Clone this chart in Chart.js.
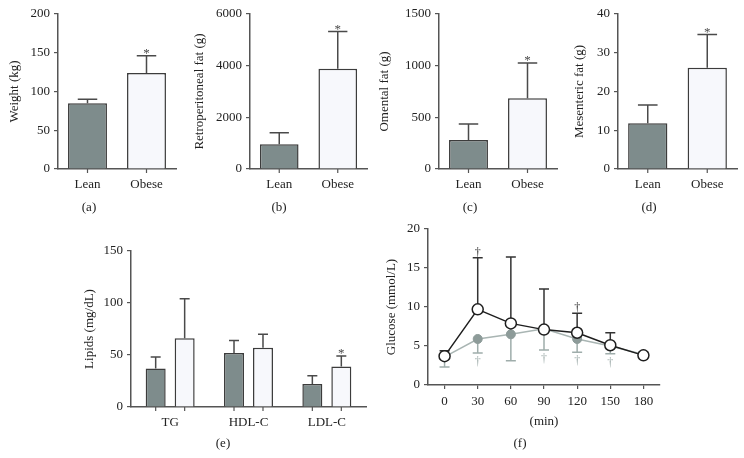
<!DOCTYPE html>
<html>
<head>
<meta charset="utf-8">
<script src="https://cdn.jsdelivr.net/npm/chart.js@4.4.0/dist/chart.umd.min.js"></script>
<style>
  html, body { margin: 0; padding: 0; background: #fff; }
  body { width: 744px; height: 458px; position: relative; overflow: hidden; font-family: 'Liberation Serif', serif; color: #222; }
  canvas { position: absolute; }
  .tag { position: absolute; width: 40px; margin-left: -20px; margin-top: -8px; line-height: 16px; text-align: center; font-size: 13px; white-space: nowrap; -webkit-font-smoothing: antialiased; will-change: transform; }
</style>
</head>
<body>
<canvas id="chartA"></canvas>
<canvas id="chartB"></canvas>
<canvas id="chartC"></canvas>
<canvas id="chartD"></canvas>
<canvas id="chartE"></canvas>
<canvas id="chartF"></canvas>
<div class="tag" style="left:89px;top:207px">(a)</div>
<div class="tag" style="left:279px;top:207px">(b)</div>
<div class="tag" style="left:470px;top:207px">(c)</div>
<div class="tag" style="left:649px;top:207px">(d)</div>
<div class="tag" style="left:223px;top:443px">(e)</div>
<div class="tag" style="left:520px;top:443px">(f)</div>
<script>
// Data
const groups = ['Lean', 'Obese'];

const weight = [85, 124];
const weightSD = [5, 22];
const weightSig = [false, true];

const retroFat = [960, 3880];
const retroFatSD = [440, 1440];
const retroFatSig = [false, true];

const omentalFat = [280, 685];
const omentalFatSD = [155, 340];
const omentalFatSig = [false, true];

const mesentericFat = [11.8, 26.1];
const mesentericFatSD = [4.7, 8.6];
const mesentericFatSig = [false, true];

const lipidTypes = ['TG', 'HDL-C', 'LDL-C'];
const lipidsLean = [37, 52, 22];
const lipidsLeanSD = [11, 12, 8];
const lipidsObese = [66, 57, 39];
const lipidsObeseSD = [38, 13, 10];
const lipidsObeseSig = [false, false, true];

const minutes = ['0', '30', '60', '90', '120', '150', '180'];
const glucoseObese = [3.7, 9.7, 7.9, 7.1, 6.7, 5.1, 3.8];
const glucoseObeseSD = [0.7, 6.6, 8.5, 5.2, 2.5, 1.6, 0.4];
const glucoseObeseSig = [false, true, false, false, true, false, false];
const glucoseLean = [3.6, 5.9, 6.5, 7.2, 5.9, 5.0, 3.9];
const glucoseLeanSD = [1.3, 1.8, 3.4, 2.7, 1.7, 1.0, 0.3];
const glucoseLeanSig = [false, true, false, true, true, true, false];

// Styles
const AXIS = '#555';
const TEXT = '#222';
const LEAN_FILL = '#7e8c8c';
const OBESE_FILL = '#f7f8fc';
const BAR_BORDER = '#3c3c3c';

Chart.defaults.font.family = "'Liberation Serif', serif";
Chart.defaults.font.size = 13;
Chart.defaults.color = TEXT;
Chart.defaults.animation = false;
Chart.defaults.responsive = false;
Chart.defaults.plugins.legend.display = false;
Chart.defaults.plugins.tooltip.enabled = false;

// error bars, significance marks, and tick marks under bars
const errorBars = {
    id: 'errorBars',
    beforeDatasetsDraw(chart) {
        const { ctx, scales: { y } } = chart;
        chart.data.datasets.forEach((ds, i) => {
            if (!ds.sd) return;
            const meta = chart.getDatasetMeta(i);
            const down = ds.errDir === 'down';
            ctx.save();
            ctx.strokeStyle = ds.errColor;
            ctx.fillStyle = ds.errColor;
            ctx.lineWidth = 1.5;
            meta.data.forEach((el, j) => {
                const end = y.getPixelForValue(down ? ds.data[j] - ds.sd[j] : ds.data[j] + ds.sd[j]);
                const half = el.width ? el.width / 4 : 5;
                ctx.beginPath();
                ctx.moveTo(el.x, el.y);
                ctx.lineTo(el.x, end);
                ctx.moveTo(el.x - half, end);
                ctx.lineTo(el.x + half, end);
                ctx.stroke();
                if (ds.sig && ds.sig[j]) {
                    ctx.textAlign = 'center';
                    ctx.textBaseline = 'alphabetic';
                    if (ds.sigMark === '*') {
                        ctx.font = "13px 'Liberation Serif', serif";
                        ctx.fillText('*', el.x, end + 1);
                    } else {
                        ctx.font = "12px 'Liberation Serif', serif";
                        ctx.fillText(ds.sigMark, el.x, down ? end + 12 : end - 2);
                    }
                }
            });
            ctx.restore();
        });
    },
    afterDatasetsDraw(chart) {
        if (chart.config.type !== 'bar') return;
        const { ctx, chartArea } = chart;
        ctx.save();
        ctx.strokeStyle = AXIS;
        ctx.lineWidth = 1.2;
        chart.data.datasets.forEach((ds, i) => {
            chart.getDatasetMeta(i).data.forEach(el => {
                ctx.beginPath();
                ctx.moveTo(el.x, chartArea.bottom);
                ctx.lineTo(el.x, chartArea.bottom + 4);
                ctx.stroke();
            });
        });
        ctx.restore();
    }
};
Chart.register(errorBars);

// size and place a canvas so the plot area lands where it should
const place = (id, box, xHeight) => {
    const c = document.getElementById(id);
    const left = Math.round(box.titleX - 8);
    const top = box.top - 12;
    c.width = box.right + 6 - left;
    c.height = box.bottom - top + xHeight;
    c.style.left = left + 'px';
    c.style.top = top + 'px';
    return { ctx: c.getContext('2d'), yWidth: box.axisX - left, xHeight, titlePad: box.titleX - left - 7.8 };
};

const yAxis = (max, step, title, p) => ({
    min: 0,
    max: max,
    ticks: { stepSize: step, padding: 4, callback: v => String(v) },
    grid: { drawOnChartArea: false, tickLength: 4, color: AXIS, lineWidth: 1.2 },
    border: { color: AXIS, width: 1.5 },
    title: { display: true, text: title, padding: { top: p.titlePad, bottom: 0 } },
    afterFit: s => { s.width = p.yWidth; }
});

const barX = p => ({
    grid: { display: false, drawTicks: false },
    border: { color: AXIS, width: 1.5 },
    ticks: { padding: 8 },
    afterFit: s => { s.height = p.xHeight; }
});

const layout = { padding: { top: 12, right: 6, left: 0, bottom: 0 } };

// Panels (a)-(d): lean vs obese
const twoBarPanel = (id, box, values, sd, sig, max, step, title) => {
    const p = place(id, box, 30);
    return new Chart(p.ctx, {
        type: 'bar',
        data: {
            labels: groups,
            datasets: [{
                data: values,
                sd: sd,
                sig: sig,
                sigMark: '*',
                errColor: '#4a4a4a',
                backgroundColor: [LEAN_FILL, OBESE_FILL],
                borderColor: BAR_BORDER,
                borderWidth: 1.5,
                barPercentage: 0.66,
                categoryPercentage: 1
            }]
        },
        options: {
            layout: layout,
            scales: { x: barX(p), y: yAxis(max, step, title, p) }
        }
    });
};

twoBarPanel('chartA', { titleX: 15, axisX: 58, top: 14, bottom: 169, right: 176 },
    weight, weightSD, weightSig, 200, 50, 'Weight (kg)');
twoBarPanel('chartB', { titleX: 200, axisX: 250, top: 14, bottom: 169, right: 367 },
    retroFat, retroFatSD, retroFatSig, 6000, 2000, 'Retroperitoneal fat (g)');
twoBarPanel('chartC', { titleX: 385, axisX: 439, top: 14, bottom: 169, right: 557 },
    omentalFat, omentalFatSD, omentalFatSig, 1500, 500, 'Omental fat (g)');
twoBarPanel('chartD', { titleX: 580, axisX: 618, top: 14, bottom: 169, right: 737 },
    mesentericFat, mesentericFatSD, mesentericFatSig, 40, 10, 'Mesenteric fat (g)');

// Panel (e): lipids
const pE = place('chartE', { titleX: 90, axisX: 131, top: 251, bottom: 407, right: 366 }, 30);
new Chart(pE.ctx, {
    type: 'bar',
    data: {
        labels: lipidTypes,
        datasets: [{
            label: 'Lean',
            data: lipidsLean,
            sd: lipidsLeanSD,
            errColor: '#4a4a4a',
            backgroundColor: LEAN_FILL,
            borderColor: BAR_BORDER,
            borderWidth: 1.5,
            barPercentage: 0.69,
            categoryPercentage: 0.74
        }, {
            label: 'Obese',
            data: lipidsObese,
            sd: lipidsObeseSD,
            sig: lipidsObeseSig,
            sigMark: '*',
            errColor: '#4a4a4a',
            backgroundColor: OBESE_FILL,
            borderColor: BAR_BORDER,
            borderWidth: 1.5,
            barPercentage: 0.69,
            categoryPercentage: 0.74
        }]
    },
    options: {
        layout: layout,
        scales: { x: barX(pE), y: yAxis(150, 50, 'Lipids (mg/dL)', pE) }
    }
});

// Panel (f): glucose curve
const pF = place('chartF', { titleX: 392, axisX: 428, top: 229, bottom: 385, right: 661 }, 44);
new Chart(pF.ctx, {
    type: 'line',
    data: {
        labels: minutes,
        datasets: [{
            label: 'Obese',
            data: glucoseObese,
            sd: glucoseObeseSD,
            sig: glucoseObeseSig,
            sigMark: '\u2020',
            errColor: '#333',
            borderColor: '#1e1e1e',
            borderWidth: 1.5,
            tension: 0,
            pointRadius: 5.5,
            pointBackgroundColor: '#fff',
            pointBorderColor: '#1e1e1e',
            pointBorderWidth: 1.5
        }, {
            label: 'Lean',
            data: glucoseLean,
            sd: glucoseLeanSD,
            sig: glucoseLeanSig,
            sigMark: '\u2020',
            errDir: 'down',
            errColor: '#9fadab',
            borderColor: '#a9b5b3',
            borderWidth: 1.5,
            tension: 0,
            pointRadius: 4.5,
            pointBackgroundColor: '#8d9b99',
            pointBorderColor: '#8d9b99',
            pointBorderWidth: 1
        }]
    },
    options: {
        layout: layout,
        scales: {
            x: {
                type: 'category',
                offset: true,
                grid: { drawOnChartArea: false, tickLength: 4, color: AXIS, lineWidth: 1.2, offset: false },
                border: { color: AXIS, width: 1.5 },
                ticks: { padding: 5 },
                title: { display: true, text: '(min)', padding: { top: 0, bottom: 0 } },
                afterFit: s => { s.height = pF.xHeight; }
            },
            y: yAxis(20, 5, 'Glucose (mmol/L)', pF)
        }
    }
});
</script>
</body>
</html>
